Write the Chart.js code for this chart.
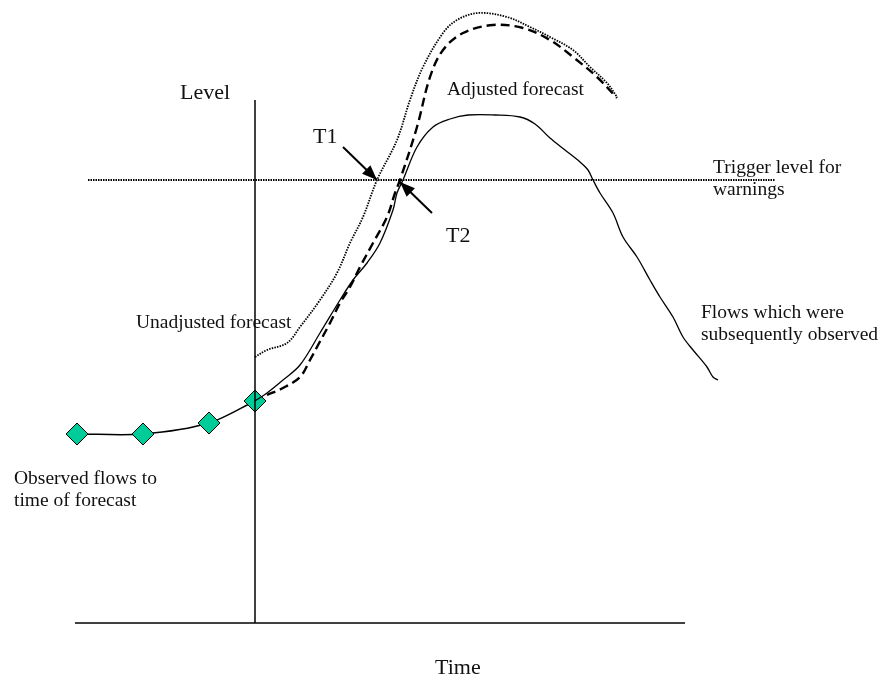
<!DOCTYPE html>
<html lang="en">
<head>
<meta charset="UTF-8">
<title>Flood forecast schematic</title>
<script src="https://cdn.jsdelivr.net/npm/chart.js"></script>
<style>
    html, body { margin: 0; padding: 0; background: #fff; }
    canvas { display: block; }
</style>
</head>
<body>
<canvas id="chart" width="879" height="676"></canvas>
<script>
// Time / level values (schematic units)
const observedTime = [77, 143, 209, 255];
const observedLevel = [242, 242, 253, 275];

const subsequentTime = [255, 267, 283, 300, 320, 340, 353, 367, 380, 393, 397, 403, 417, 433, 450, 468, 495, 520, 535, 550, 565, 580, 588, 593, 600, 613, 623, 637, 650, 660, 673, 683, 693, 707, 713, 718];
const subsequentLevel = [275, 283, 296, 311, 343, 376, 396, 413, 433, 466, 483, 496, 529, 549, 557, 561, 561, 559, 552, 538, 526, 514, 506, 496, 483, 463, 439, 419, 396, 379, 359, 339, 326, 309, 299, 296];

const adjustedTime = [267, 283, 300, 310, 317, 330, 340, 350, 360, 373, 387, 395, 400, 417, 430, 443, 463, 493, 523, 550, 573, 597, 617];
const adjustedLevel = [281, 288, 299, 316, 329, 353, 373, 389, 409, 433, 459, 483, 496, 549, 599, 626, 643, 651, 648, 636, 619, 599, 578];

const unadjustedTime = [255, 267, 287, 300, 320, 337, 350, 363, 377, 397, 410, 423, 443, 457, 478, 507, 530, 550, 573, 590, 607, 617];
const unadjustedLevel = [319, 326, 333, 349, 376, 403, 433, 459, 496, 536, 576, 609, 643, 656, 663, 659, 649, 639, 626, 609, 593, 579];

const triggerLevel = 496;
const triggerTime = [88, 775];

const axisTimeRange = [75, 685];
const forecastTime = 255;
const axisLevelRange = [53, 576];

// arrows: [fromTime, fromLevel, toTime, toLevel]
const arrowT1 = [343, 529, 377, 496];
const arrowT2 = [432, 463, 400, 494];

// text labels, positioned at their left baseline
const labels = [
    { text: 'Level', t: 180, l: 577, size: 22 },
    { text: 'Time', t: 435, l: 2, size: 22 },
    { text: 'T1', t: 313, l: 533, size: 22 },
    { text: 'T2', t: 446, l: 434, size: 22 },
    { text: 'Adjusted forecast', t: 447, l: 581, size: 19.5 },
    { text: 'Trigger level for', t: 713, l: 503, size: 19.5 },
    { text: 'warnings', t: 713, l: 481, size: 19.5 },
    { text: 'Unadjusted forecast', t: 136, l: 348, size: 19.5 },
    { text: 'Flows which were', t: 701, l: 358, size: 19.5 },
    { text: 'subsequently observed', t: 701, l: 336, size: 19.5 },
    { text: 'Observed flows to', t: 14, l: 192, size: 19.5 },
    { text: 'time of forecast', t: 14, l: 170, size: 19.5 }
];

function pts(xs, ys) {
    return xs.map((x, i) => ({ x: x, y: ys[i] }));
}

function lineSet(data, opts) {
    return Object.assign({
        type: 'line',
        data: data,
        borderColor: '#000',
        borderWidth: 1.3,
        pointRadius: 0,
        fill: false,
        tension: 0.35,
        clip: false
    }, opts);
}

const textPlugin = {
    id: 'textLabels',
    afterDatasetsDraw(chart) {
        const ctx = chart.ctx;
        const xs = chart.scales.x, ys = chart.scales.y;
        ctx.save();
        ctx.fillStyle = '#111';
        ctx.textBaseline = 'alphabetic';
        ctx.textAlign = 'left';
        labels.forEach(lb => {
            ctx.font = lb.size + 'px "Liberation Serif", "Times New Roman", serif';
            ctx.fillText(lb.text, xs.getPixelForValue(lb.t), ys.getPixelForValue(lb.l));
        });
        // arrowheads
        [arrowT1, arrowT2].forEach(a => {
            const x0 = xs.getPixelForValue(a[0]), y0 = ys.getPixelForValue(a[1]);
            const x1 = xs.getPixelForValue(a[2]), y1 = ys.getPixelForValue(a[3]);
            const ang = Math.atan2(y1 - y0, x1 - x0);
            const len = 15, half = 6;
            ctx.beginPath();
            ctx.moveTo(x1, y1);
            ctx.lineTo(x1 - len * Math.cos(ang) + half * Math.sin(ang), y1 - len * Math.sin(ang) - half * Math.cos(ang));
            ctx.lineTo(x1 - len * Math.cos(ang) - half * Math.sin(ang), y1 - len * Math.sin(ang) + half * Math.cos(ang));
            ctx.closePath();
            ctx.fillStyle = '#000';
            ctx.fill();
        });
        ctx.restore();
    }
};

new Chart(document.getElementById('chart'), {
    type: 'scatter',
    data: {
        datasets: [
            // axes
            lineSet(pts(axisTimeRange, [axisLevelRange[0], axisLevelRange[0]]), { tension: 0, borderWidth: 1.5 }),
            lineSet(pts([forecastTime, forecastTime], axisLevelRange), { tension: 0, borderWidth: 1.5 }),
            // trigger level
            lineSet(pts(triggerTime, [triggerLevel, triggerLevel]), { tension: 0, borderWidth: 2, borderDash: [1.5, 1] }),
            // forecasts and observed
            lineSet(pts(unadjustedTime, unadjustedLevel), { borderWidth: 1.8, borderDash: [1.5, 1.2] }),
            lineSet(pts(adjustedTime, adjustedLevel), { borderWidth: 2.4, borderDash: [9, 5] }),
            lineSet(pts(subsequentTime, subsequentLevel), {}),
            // arrows
            lineSet(pts([arrowT1[0], arrowT1[2]], [arrowT1[1], arrowT1[3]]), { tension: 0, borderWidth: 2 }),
            lineSet(pts([arrowT2[0], arrowT2[2]], [arrowT2[1], arrowT2[3]]), { tension: 0, borderWidth: 2 }),
            // observed flows to time of forecast
            lineSet(pts(observedTime, observedLevel), {
                borderWidth: 1.5,
                tension: 0.3,
                pointStyle: 'rectRot',
                pointRadius: 11,
                pointBackgroundColor: '#00CC99',
                pointBorderColor: '#000',
                pointBorderWidth: 1
            })
        ]
    },
    options: {
        responsive: false,
        animation: false,
        layout: { padding: 0, autoPadding: false },
        plugins: { legend: { display: false }, tooltip: { enabled: false } },
        scales: {
            x: { type: 'linear', min: 0, max: 879, display: false },
            y: { type: 'linear', min: 0, max: 676, display: false }
        }
    },
    plugins: [textPlugin]
});
</script>
</body>
</html>
